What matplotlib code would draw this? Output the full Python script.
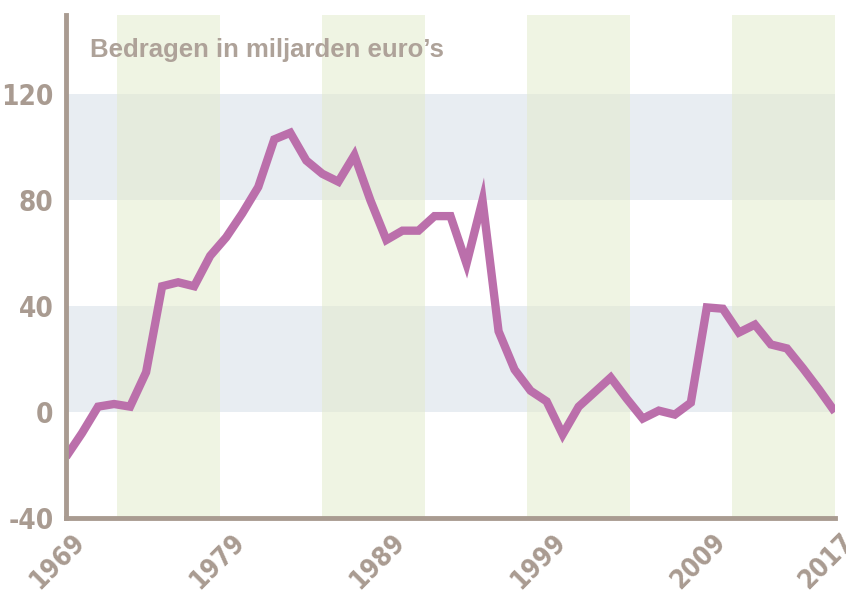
import matplotlib.pyplot as plt
import matplotlib.transforms as mtransforms

# Saldo in miljarden euro's, 1969-2017
years = list(range(1969, 2018))
values = [-17, -8, 2, 3, 2, 15, 47.5, 49, 47.5, 59, 66, 75, 85, 103, 105.5,
          95, 90, 87, 97, 80, 65, 68.5, 68.5, 74, 74, 56, 80, 30.5, 16,
          8, 4, -8.5, 2, 7.5, 13, 5, -2.5, 0.5, -1, 3.5, 39.5, 39, 30,
          33, 25.5, 24, 16.5, 8.5, 0]

xtick_years = [1969, 1979, 1989, 1999, 2009, 2017]
yticks = [-40, 0, 40, 80, 120]
title = "Bedragen in miljarden euro\u2019s"

axis_col = '#a99b91'
line_col = '#bb6fab'

fig = plt.figure(figsize=(8.46, 6), dpi=100)
ax = fig.add_axes([0.078, 0.137, 0.909, 0.838])

ax.set_xlim(1969, 2017)
ax.set_ylim(-40, 150)

# horizontal bands
for lo, hi in [(0, 40), (80, 120)]:
    ax.axhspan(lo, hi, color='#d3dde6', alpha=0.5, lw=0, zorder=0)

# vertical bands
span = (2017 - 1969) / 7.5
start = 1969 + span / 2
for i in range(4):
    a = start + 2 * i * span
    ax.axvspan(a, min(a + span, 2017), color='#e3ebcc', alpha=0.55, lw=0, zorder=0)

ax.plot(years, values, color=line_col, lw=6, solid_joinstyle='miter',
        solid_capstyle='butt', zorder=3)

for s in ['top', 'right']:
    ax.spines[s].set_visible(False)
for s in ['left', 'bottom']:
    ax.spines[s].set_color(axis_col)
    ax.spines[s].set_linewidth(3.5)
    ax.spines[s].set_zorder(4)

ax.set_yticks(yticks)
ax.set_yticklabels([str(v) for v in yticks])
ax.set_xticks(xtick_years)
ax.set_xticklabels([str(y) for y in xtick_years])
ax.tick_params(length=0)
ax.tick_params(axis='y', pad=9)

for lab in ax.get_yticklabels():
    lab.set_fontfamily('DejaVu Sans')
    lab.set_fontstretch('condensed')
    lab.set_fontweight('bold')
    lab.set_fontsize(20)
    lab.set_color(axis_col)

offset = mtransforms.ScaledTranslation(0.15, -0.16, fig.dpi_scale_trans)
for lab in ax.get_xticklabels():
    lab.set_fontfamily('DejaVu Sans')
    lab.set_fontstretch('condensed')
    lab.set_fontweight('bold')
    lab.set_fontsize(19)
    lab.set_color(axis_col)
    lab.set_rotation(45)
    lab.set_rotation_mode('anchor')
    lab.set_ha('right')
    lab.set_va('center')
    lab.set_transform(lab.get_transform() + offset)

ax.text(0.031, 0.93, title, transform=ax.transAxes, fontsize=18.5,
        fontweight='bold', color='#aea299', family='Liberation Sans',
        va='center', ha='left')

fig.savefig('out.png', dpi=100)
